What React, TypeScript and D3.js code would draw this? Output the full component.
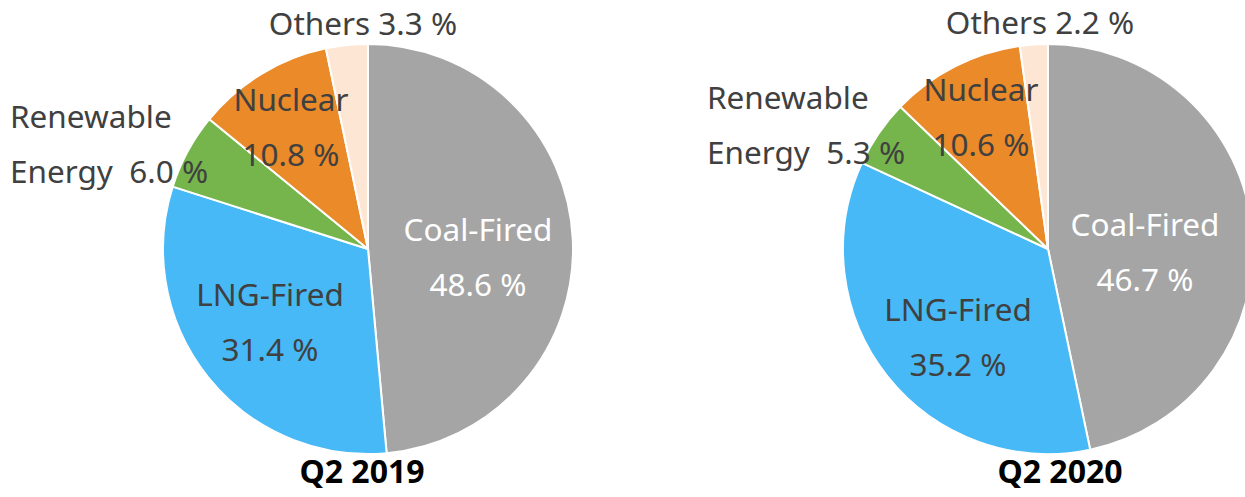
import React from "react";
import * as d3 from "d3";

const categories = ["Coal-Fired", "LNG-Fired", "Renewable Energy", "Nuclear", "Others"];
const values2019 = [48.6, 31.4, 6.0, 10.8, 3.3];
const values2020 = [46.7, 35.2, 5.3, 10.6, 2.2];
const titles = ["Q2 2019", "Q2 2020"];
const colors = ["#a5a5a5", "#47b9f6", "#75b54b", "#ea8a28", "#fde6d4"];

const WIDTH = 1245;
const HEIGHT = 497;
const RADIUS = 205;
const FONT = "'Noto Sans', 'Open Sans', sans-serif";

// label placement per pie, relative to pie centre
const LABELS = [
  {
    cx: 368, cy: 249, titleX: 362,
    items: [
      { lines: ["Coal-Fired", "48.6 %"], x: 110, y: -19, anchor: "middle", fill: "#fff" },
      { lines: ["LNG-Fired", "31.4 %"], x: -98, y: 46, anchor: "middle", fill: "#404040" },
      { lines: ["Renewable", "Energy  6.0 %"], x: -358, y: -132, anchor: "start", fill: "#404040" },
      { lines: ["Nuclear", "10.8 %"], x: -77, y: -149, anchor: "middle", fill: "#404040" },
      { lines: ["Others 3.3 %"], x: -5, y: -225, anchor: "middle", fill: "#404040" },
    ],
  },
  {
    cx: 1048, cy: 249, titleX: 1060,
    items: [
      { lines: ["Coal-Fired", "46.7 %"], x: 97, y: -24, anchor: "middle", fill: "#fff" },
      { lines: ["LNG-Fired", "35.2 %"], x: -90, y: 61, anchor: "middle", fill: "#404040" },
      { lines: ["Renewable", "Energy  5.3 %"], x: -341, y: -151, anchor: "start", fill: "#404040" },
      { lines: ["Nuclear", "10.6 %"], x: -67, y: -159, anchor: "middle", fill: "#404040" },
      { lines: ["Others 2.2 %"], x: -8, y: -226, anchor: "middle", fill: "#404040" },
    ],
  },
];

const pie = d3.pie<number>().sort(null).value(d => d);
const arc = d3.arc<d3.PieArcDatum<number>>().innerRadius(0).outerRadius(RADIUS);

function Pie({ values, layout, title }) {
  const arcs = pie(values);
  return (
    <g>
      <g transform={`translate(${layout.cx},${layout.cy})`}>
        {arcs.map((a, i) => (
          <path key={categories[i]} d={arc(a)} fill={colors[i]} stroke="#fff" strokeWidth={2} />
        ))}
        {layout.items.map((it, i) => (
          <text key={i} x={it.x} y={it.y} textAnchor={it.anchor} fill={it.fill}
            fontFamily={FONT} fontSize={31.5}>
            {it.lines.map((l, j) => (
              <tspan key={j} x={it.x} dy={j === 0 ? "0.35em" : 55} style={{ whiteSpace: "pre" }}>{l}</tspan>
            ))}
          </text>
        ))}
      </g>
      <text x={layout.titleX} y={472} dy="0.35em" textAnchor="middle" fontFamily={FONT}
        fontWeight="bold" fontSize={32} fill="#000">{title}</text>
    </g>
  );
}

export default function App() {
  return (
    <svg width={WIDTH} height={HEIGHT} style={{ position: "absolute", left: 0, top: 0, background: "#fff" }}>
      <Pie values={values2019} layout={LABELS[0]} title={titles[0]} />
      <Pie values={values2020} layout={LABELS[1]} title={titles[1]} />
    </svg>
  );
}
